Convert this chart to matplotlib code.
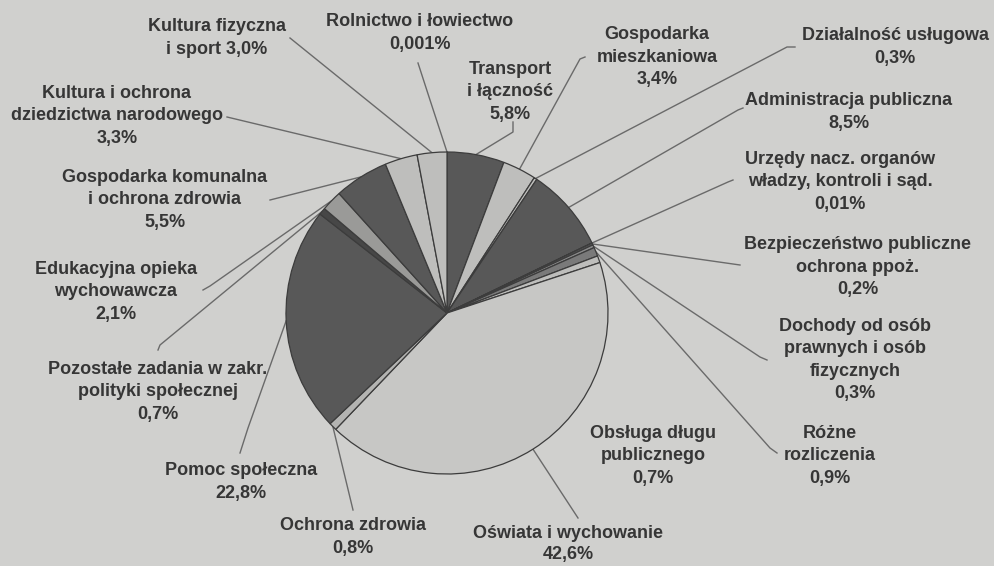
import matplotlib
matplotlib.use("Agg")
import matplotlib.pyplot as plt
import numpy as np

plt.rcParams['font.family'] = ['Liberation Sans', 'DejaVu Sans']

# dane: udział wydatków (%) - kolejność zgodnie z ruchem wskazówek zegara od góry
labels = [
    "Rolnictwo i łowiectwo\n0,001%",
    "Transport\ni łączność\n5,8%",
    "Gospodarka\nmieszkaniowa\n3,4%",
    "Działalność usługowa\n0,3%",
    "Administracja publiczna\n8,5%",
    "Urzędy nacz. organów\nwładzy, kontroli i sąd.\n0,01%",
    "Bezpieczeństwo publiczne\nochrona ppoż.\n0,2%",
    "Dochody od osób\nprawnych i osób\nfizycznych\n0,3%",
    "Różne\nrozliczenia\n0,9%",
    "Obsługa długu\npublicznego\n0,7%",
    "Oświata i wychowanie\n42,6%",
    "Ochrona zdrowia\n0,8%",
    "Pomoc społeczna\n22,8%",
    "Pozostałe zadania w zakr.\npolityki społecznej\n0,7%",
    "Edukacyjna opieka\nwychowawcza\n2,1%",
    "Gospodarka komunalna\ni ochrona zdrowia\n5,5%",
    "Kultura i ochrona\ndziedzictwa narodowego\n3,3%",
    "Kultura fizyczna\ni sport 3,0%",
]
values = [0.001, 5.8, 3.4, 0.3, 8.5, 0.01, 0.2, 0.3, 0.9, 0.7,
          42.6, 0.8, 22.8, 0.7, 2.1, 5.5, 3.3, 3.0]

DARK = '#585858'
LIGHT = '#bebebc'
colors = [LIGHT, DARK, LIGHT, LIGHT, DARK, DARK, DARK, '#8a8a8a', '#7a7a7a', LIGHT,
          '#c7c7c5', '#b4b4b2', DARK, '#474747', '#9a9a98', DARK, LIGHT, LIGHT]

# układ: pozycje etykiet (piksele, środek bloku tekstu) i punkty zaczepienia linii
H = 566
label_xy = [(420, 33), (510, 92), (657, 57), (895, 47), (849, 112), (840, 182),
            (858, 267), (855, 360), (830, 456), (653, 456), (568, 544), (353, 537),
            (241, 482), (158, 392), (116, 292), (165, 200), (117, 116), (217, 38)]
# linie odniesienia: punkty po stronie etykiety (None = brak linii)
leader = [
    [(418, 63), (430, 100)],
    [(513, 122), (513, 132)],
    [(585, 57), (580, 59)],
    [(795, 47), (787, 47)],
    [(743, 108), (738, 110)],
    [(733, 180), (728, 182)],
    [(740, 265)],
    [(767, 360), (760, 357)],
    [(777, 453), (770, 448)],
    None,
    [(578, 518)],
    [(353, 510)],
    [(240, 453), (248, 428)],
    [(158, 350), (160, 345)],
    [(203, 290), (210, 286)],
    [(270, 200)],
    [(227, 117)],
    [(290, 38)],
]

fig = plt.figure(figsize=(9.94, 5.66), dpi=100)
fig.patch.set_facecolor('#d0d0ce')
ax = fig.add_axes([0, 0, 1, 1])
ax.set_facecolor('#d0d0ce')

cx, cy, r = 447, H - 313, 161
wedges, _ = ax.pie(values, colors=colors, startangle=90, counterclock=False,
                   radius=r, center=(cx, cy),
                   wedgeprops=dict(edgecolor='#3c3c3c', linewidth=0.9))

for w, lab, (lx, ly), pts in zip(wedges, labels, label_xy, leader):
    ls = 1.3 if lab.startswith("Oświata") else 1.42
    ax.text(lx, H - ly, lab, ha='center', va='center', fontsize=13,
            fontweight='bold', color='#363636', linespacing=ls)
    if pts is None:
        continue
    mid = np.deg2rad((w.theta1 + w.theta2) / 2)
    ex, ey = cx + r * np.cos(mid), cy + r * np.sin(mid)
    xs = [p[0] for p in pts] + [ex]
    ys = [H - p[1] for p in pts] + [ey]
    ax.plot(xs, ys, color='#6a6a6a', lw=1.0, zorder=0.5)

ax.set_xlim(0, 994)
ax.set_ylim(0, H)
ax.set_aspect('equal')
ax.axis('off')

fig.savefig('out.png', dpi=100, facecolor=fig.get_facecolor())
